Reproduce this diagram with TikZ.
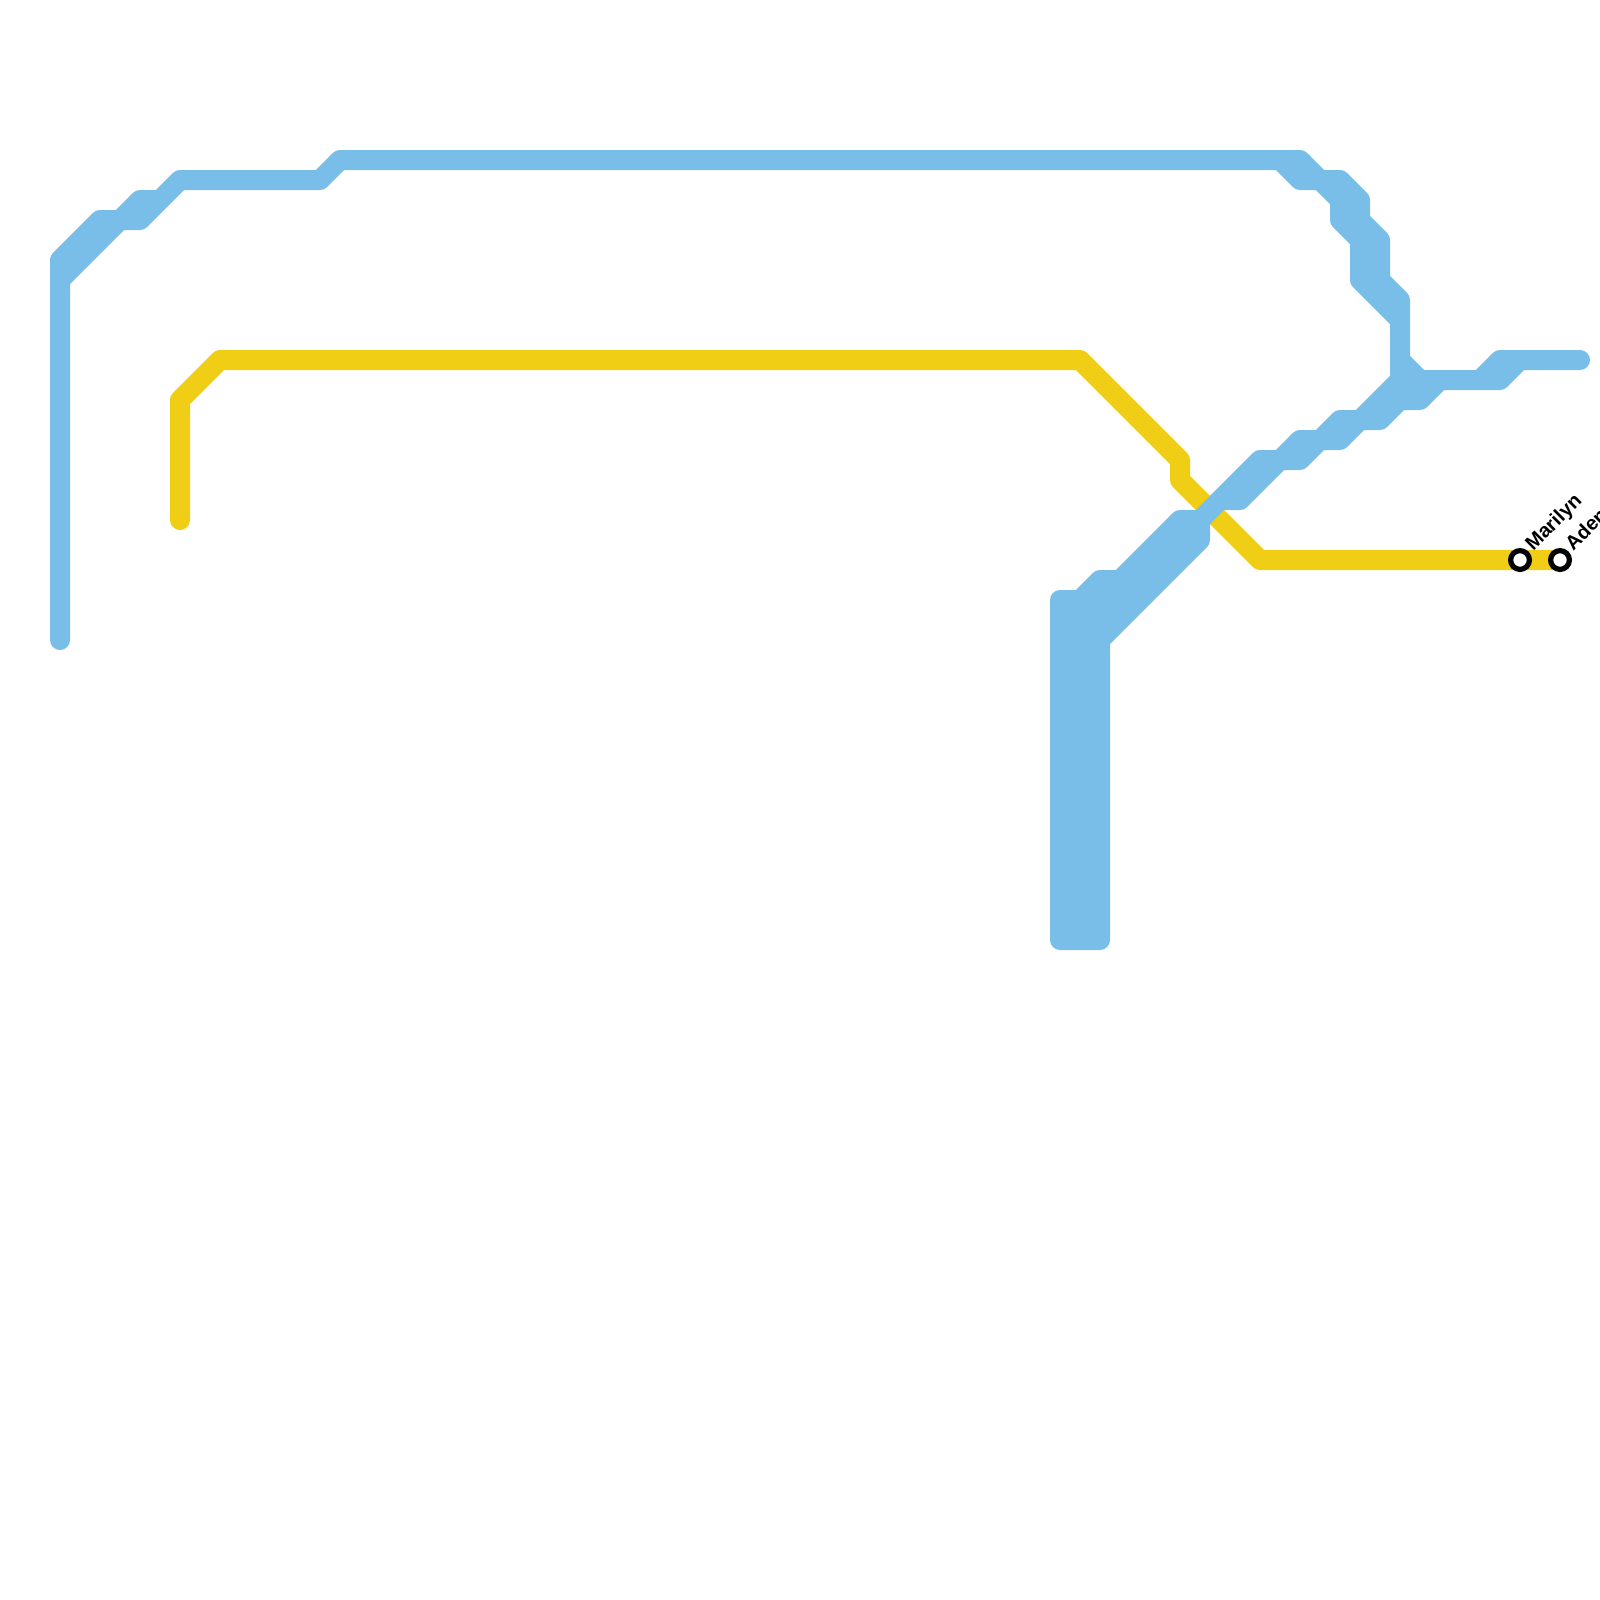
\documentclass[tikz,border=0pt]{standalone}
\usepackage{fontspec}
\setmainfont{Liberation Sans}
\definecolor{lineblue}{HTML}{79BDE9}
\definecolor{lineyellow}{HTML}{F0CE15}
\tikzset{
  transit/.style={line width=10pt,line join=round,line cap=round},
  stationdot/.style={circle,draw=black,fill=white,line width=2.6pt,minimum size=9.4pt,inner sep=0pt},
  stationlabel/.style={font=\bfseries\fontsize{10}{12}\selectfont,text=black,rotate=45,anchor=base west,inner sep=0pt}
}
\begin{document}
\begin{tikzpicture}[x=0.5pt,y=-0.5pt]
\useasboundingbox (0,0) rectangle (1600,1600);
\clip (0,0) rectangle (1600,1600);
\fill[white] (0,0) rectangle (1600,1600);
\coordinate (marilynpos) at (1520,560);
\coordinate (adenpos) at (1560,560);
% yellow line
\draw[transit,lineyellow] (180,520) -- (180,400) -- (220,360) -- (1080,360) -- (1180,460) -- (1180,480) -- (1260,560) -- (marilynpos) -- (adenpos);
% blue line: outline of all its parallel runs
\draw[transit,draw=lineblue,fill=lineblue]
 (60,640) -- (60,260) -- (100,220) -- (120,220) -- (140,200) -- (160,200) -- (180,180) -- (320,180) -- (340,160) -- (1300,160)
 -- (1320,180) -- (1340,180) -- (1360,200) -- (1360,220) -- (1380,240) -- (1380,280) -- (1400,300) -- (1400,360) -- (1420,380)
 -- (1480,380) -- (1500,360) -- (1580,360) -- (1520,360) -- (1500,380) -- (1440,380) -- (1420,400) -- (1400,400) -- (1380,420)
 -- (1360,420) -- (1340,440) -- (1320,440) -- (1300,460) -- (1280,460) -- (1240,500) -- (1220,500) -- (1200,520) -- (1200,540)
 -- (1100,640) -- (1100,940) -- (1060,940) -- (1060,600) -- (1080,600) -- (1100,580) -- (1120,580) -- (1180,520) -- (1200,520)
 -- (1260,460) -- (1280,460) -- (1300,440) -- (1320,440) -- (1340,420) -- (1360,420) -- (1400,380) -- (1400,320) -- (1360,280)
 -- (1360,240) -- (1340,220) -- (1340,200) -- (1320,180) -- (1300,180) -- (1280,160) -- (340,160) -- (320,180) -- (180,180)
 -- (140,220) -- (120,220) -- (60,280) -- cycle;
% stations
\node[stationdot] (marilyn) at (marilynpos) {};
\node[stationdot] (aden) at (adenpos) {};
\node[stationlabel] (marilynlabel) at (1533,552) {Marilyn};
\node[stationlabel] (adenlabel) at (1573,552) {Aden};
\end{tikzpicture}
\end{document}
